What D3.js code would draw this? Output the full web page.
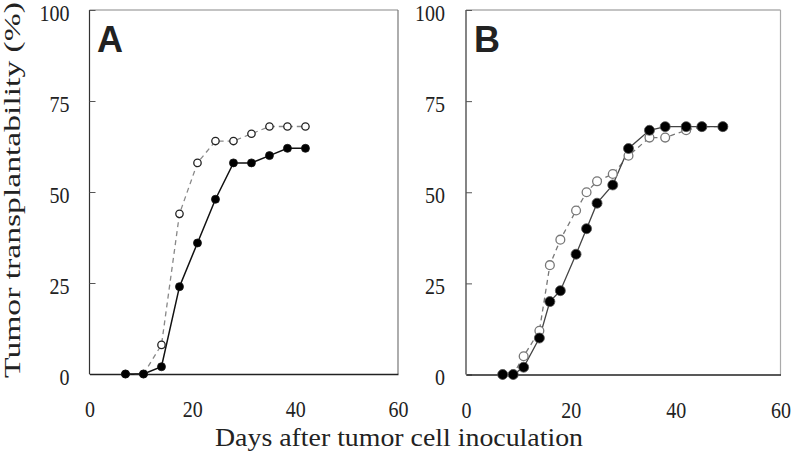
<!DOCTYPE html>
<html><head><meta charset="utf-8">
<script src="https://cdn.jsdelivr.net/npm/d3@7"></script>
<style>
html,body{margin:0;padding:0;background:#fff;}
svg{display:block;}
text{font-family:"Liberation Serif","Times New Roman",serif;fill:#222;}
</style></head>
<body>
<svg id="chart" width="792" height="458"></svg>
<script>
// ---- data ----
const daysA = [7, 10.5, 14, 17.5, 21, 24.5, 28, 31.5, 35, 38.5, 42];
const filledA = [0, 0, 2, 24, 36, 48, 58, 58, 60, 62, 62];
const openA   = [0, 0, 8, 44, 58, 64, 64, 66, 68, 68, 68];

const daysB = [7, 9, 11, 14, 16, 18, 21, 23, 25, 28, 31, 35, 38, 42, 45, 49];
const filledB = [0, 0, 2, 10, 20, 23, 33, 40, 47, 52, 62, 67, 68, 68, 68, 68];
const openB   = [0, 0, 5, 12, 30, 37, 45, 50, 53, 55, 60, 65, 65, 67, 68, 68];

const xTicks = [0, 20, 40, 60];
const yTicks = [0, 25, 50, 75, 100];
const panelLabels = ["A", "B"];
const yTitle = "Tumor transplantability (%)";
const xTitle = "Days after tumor cell inoculation";

// ---- layout ----
const svg = d3.select("#chart");
const panels = [
  {left: 89.5, right: 398, top: 10, bottom: 374, days: daysA, filled: filledA, open: openA,
   rF: 4, rO: 3.7, fLine: "#111", fW: 1.5, oLine: "#888", oStroke: "#222", fStroke: "#111", labelX: 97},
  {left: 466, right: 780.5, top: 10, bottom: 374.5, days: daysB, filled: filledB, open: openB,
   rF: 5, rO: 4.4, fLine: "#444", fW: 1.3, oLine: "#777", oStroke: "#777", fStroke: "#555", labelX: 474}
];

panels.forEach((p, i) => {
  const x = d3.scaleLinear().domain([0, 60]).range([p.left, p.right]);
  const y = d3.scaleLinear().domain([0, 100]).range([p.bottom, p.top]);
  const g = svg.append("g");

  // frame
  g.append("line").attr("x1", x(0)).attr("x2", x(60)).attr("y1", y(100)).attr("y2", y(100))
    .attr("stroke", "#888").attr("stroke-width", 1.2);
  g.append("line").attr("x1", x(60)).attr("x2", x(60)).attr("y1", y(100)).attr("y2", y(0))
    .attr("stroke", i === 0 ? "#777" : "#aaa").attr("stroke-width", 1.2);
  g.append("line").attr("x1", x(0)).attr("x2", x(0)).attr("y1", y(100)).attr("y2", y(0))
    .attr("stroke", "#333").attr("stroke-width", 1.2);

  // y axis
  const ya = g.append("g").attr("transform", `translate(${x(0)},0)`)
    .call(d3.axisLeft(y).tickValues(yTicks).tickSize(-6).tickFormat(d3.format("d")));
  ya.select(".domain").remove();
  ya.selectAll(".tick line").attr("stroke", "#555");
  ya.selectAll(".tick text")
    .attr("x", null).attr("dy", null)
    .attr("transform", `translate(-${i === 0 ? 20 : 21},10) scale(1,1.2)`)
    .style("font-family", '"Liberation Serif",serif').style("font-size", "20px")
    .attr("fill", "#222");

  // x axis
  const xa = g.append("g").attr("transform", `translate(0,${y(0)})`)
    .call(d3.axisBottom(x).tickValues(xTicks).tickSize(0).tickFormat(d3.format("d")));
  xa.select(".domain").attr("stroke", "#222").attr("stroke-width", 1.6);
  xa.selectAll(".tick text")
    .attr("y", null).attr("dy", null)
    .attr("transform", "translate(0,43) scale(1,1.15)")
    .style("font-family", '"Liberation Serif",serif').style("font-size", "20px")
    .attr("fill", "#222");

  const line = d3.line().x((d, k) => x(p.days[k])).y(d => y(d));

  // open series (dashed)
  g.append("path").datum(p.open).attr("d", line)
    .attr("fill", "none").attr("stroke", p.oLine).attr("stroke-width", 1.3)
    .attr("stroke-dasharray", "5,4");
  // filled series (solid)
  g.append("path").datum(p.filled).attr("d", line)
    .attr("fill", "none").attr("stroke", p.fLine).attr("stroke-width", p.fW);

  g.selectAll(".o").data(p.open).enter().append("circle")
    .attr("cx", (d, k) => x(p.days[k])).attr("cy", d => y(d)).attr("r", p.rO)
    .attr("fill", "#fff").attr("stroke", p.oStroke).attr("stroke-width", 1.3);
  g.selectAll(".f").data(p.filled).enter().append("circle")
    .attr("cx", (d, k) => x(p.days[k])).attr("cy", d => y(d)).attr("r", p.rF)
    .attr("fill", "#000").attr("stroke", p.fStroke).attr("stroke-width", 0.8);

  // panel letter
  g.append("text").attr("x", p.labelX).attr("y", 52).text(panelLabels[i])
    .style("font-family", '"Liberation Sans",Arial,sans-serif').style("font-weight", "bold")
    .style("font-size", "36px").attr("fill", "#000");
});

// titles
svg.append("text")
  .attr("transform", "translate(20,190) rotate(-90)")
  .attr("text-anchor", "middle")
  .attr("textLength", 376).attr("lengthAdjust", "spacingAndGlyphs")
  .style("font-size", "24px").text(yTitle);

svg.append("text")
  .attr("x", 399).attr("y", 446)
  .attr("text-anchor", "middle")
  .attr("textLength", 368).attr("lengthAdjust", "spacingAndGlyphs")
  .style("font-size", "25px").text(xTitle);
</script>
</body></html>
